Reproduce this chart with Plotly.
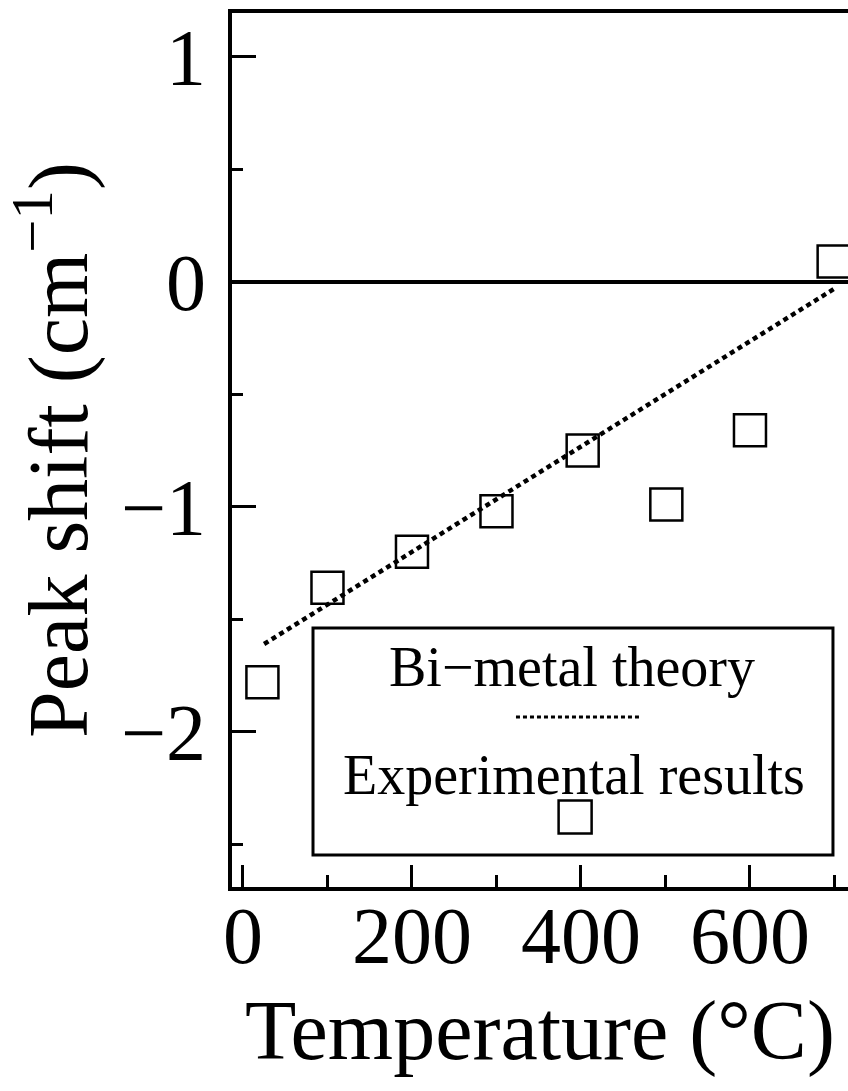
import plotly.graph_objects as go

# Data
temp_exp = [23, 100, 200, 300, 402, 501, 600, 699]
shift_exp = [-1.78, -1.36, -1.20, -1.02, -0.75, -0.99, -0.66, 0.09]

temp_theory = [25, 700]
shift_theory = [-1.61, -0.03]

x_tickvals = [0, 200, 400, 600]
y_tickvals = [1, 0, -1, -2]
y_ticktext = ["1", "0", "\u22121", "\u22122"]

FONT = "Liberation Serif, Times New Roman, serif"

fig = go.Figure()

fig.add_trace(go.Scatter(
    x=temp_theory, y=shift_theory, mode="lines",
    line=dict(color="black", width=4.5, dash="5px,4px"),
    showlegend=False, hoverinfo="skip"))

fig.add_trace(go.Scatter(
    x=temp_exp, y=shift_exp, mode="markers",
    marker=dict(symbol="square-open", size=32, color="black",
                line=dict(color="black", width=2.5)),
    showlegend=False))

fig.update_layout(
    width=848, height=1091,
    margin=dict(l=232, r=0, t=13, b=204),
    paper_bgcolor="white", plot_bgcolor="white",
    font=dict(family=FONT, color="black"),
    showlegend=False,
)

fig.update_xaxes(
    range=[-13, 716], showgrid=False, zeroline=False,
    showline=True, linecolor="black", linewidth=4, mirror=True,
    tickmode="array", tickvals=x_tickvals,
    ticks="inside", ticklen=22, tickwidth=3, tickcolor="black",
    minor=dict(dtick=100, tick0=0, ticks="inside", ticklen=12, tickwidth=3, tickcolor="black", showgrid=False),
    tickfont=dict(size=80, family=FONT, color="black"),
    ticklabelstandoff=-24,
    title=dict(text="Temperature (\u00b0C)", font=dict(size=84, family=FONT, color="black"), standoff=22),
)

fig.update_yaxes(
    range=[-2.69, 1.195], showgrid=False,
    zeroline=True, zerolinecolor="black", zerolinewidth=4,
    showline=True, linecolor="black", linewidth=4, mirror=False,
    tickmode="array", tickvals=y_tickvals, ticktext=y_ticktext,
    ticks="inside", ticklen=24, tickwidth=3, tickcolor="black",
    minor=dict(dtick=0.5, tick0=0.5, ticks="inside", ticklen=11, tickwidth=3, tickcolor="black", showgrid=False),
    tickfont=dict(size=80, family=FONT, color="black"),
    ticklabelstandoff=6,
    title=dict(text="Peak shift (cm<sup>\u22121</sup>)", font=dict(size=84, family=FONT, color="black"), standoff=30),
)

# Hand-drawn legend box (symbol under text, as in the original)
fig.add_shape(type="rect", xref="paper", yref="paper",
              x0=0.1315, x1=0.9756, y0=0.0366, y1=0.2963,
              line=dict(color="black", width=3), fillcolor="rgba(0,0,0,0)")
fig.add_annotation(xref="paper", yref="paper", x=0.552, y=0.2517,
                   text="Bi\u2212metal theory", showarrow=False,
                   font=dict(size=56, family=FONT, color="black"),
                   xanchor="center", yanchor="middle")
fig.add_shape(type="line", xref="paper", yref="paper",
              x0=0.461, x1=0.662, y0=0.1945, y1=0.1945,
              line=dict(color="black", width=3, dash="4px,3px"))
fig.add_annotation(xref="paper", yref="paper", x=0.555, y=0.1281,
                   text="Experimental results", showarrow=False,
                   font=dict(size=56, family=FONT, color="black"),
                   xanchor="center", yanchor="middle")
fig.add_shape(type="rect", xref="paper", yref="paper",
              x0=0.557 - 0.0268, x1=0.557 + 0.0268,
              y0=0.080 - 0.0189, y1=0.080 + 0.0189,
              line=dict(color="black", width=2.5), fillcolor="rgba(0,0,0,0)")

fig.write_html("out.html")
